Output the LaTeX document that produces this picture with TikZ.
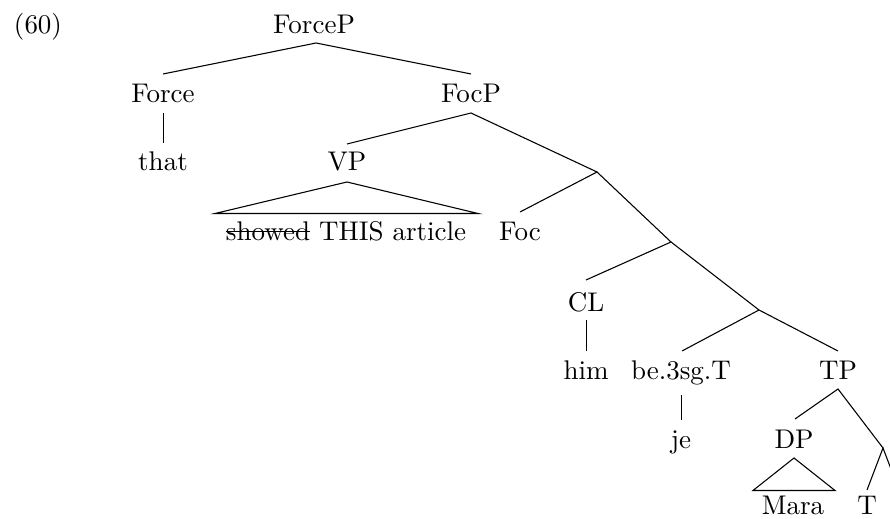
\documentclass[tikz,border=0pt]{standalone}
\newcommand\strk[1]{\setbox0\hbox{#1}\rlap{\rule[0.75ex]{\wd0}{0.4pt}}\box0\relax}
\begin{document}
\begin{tikzpicture}[x=0.3704pt,y=-0.3704pt,
  lab/.style={anchor=base,inner sep=0pt,outer sep=0pt},
  edge/.style={draw=black,line width=0.4pt}]
\useasboundingbox (0,0) rectangle (890,519);
% labels
\node[lab] (n60) at (38,34) {(60)};
\node[lab] (nForceP) at (314,34) {ForceP};
\node[lab] (nForce) at (163,103) {Force};
\node[lab] (nFocP) at (471,103) {FocP};
\node[lab] (nthat) at (163,171) {that};
\node[lab] (nVP) at (347,171) {VP};
\node[lab] (nvp) at (346,241) {\strk{showed} THIS article};
\node[lab] (nFoc) at (520,241) {Foc};
\node[lab] (nCL) at (586,312) {CL};
\node[lab] (nhim) at (586,380) {him};
\node[lab] (nbe) at (681,380) {be.3sg.T};
\node[lab] (nTP) at (838,380) {TP};
\node[lab] (nje) at (681,449) {je};
\node[lab] (nDP) at (794,449) {DP};
\node[lab] (nMara) at (793,515) {Mara};
\node[lab] (nT) at (867,515) {T};
% attachment points
\coordinate (forcepB) at (316,43);
\coordinate (forceT) at (163,74);
\coordinate (focpT) at (471,74);
\coordinate (forceB) at (163.5,113);
\coordinate (thatT) at (163.5,143);
\coordinate (focpB) at (471,113);
\coordinate (vpT) at (347,144);
\coordinate (bar1) at (597,172);
\coordinate (vpA) at (347,182);
\coordinate (vpL) at (215,213.5);
\coordinate (vpR) at (478,213.5);
\coordinate (focT) at (520,212);
\coordinate (bar2) at (671,242);
\coordinate (clT) at (586,280);
\coordinate (bar3) at (759,310);
\coordinate (clB) at (586.5,320);
\coordinate (himT) at (586.5,351);
\coordinate (beT) at (682,351);
\coordinate (tpT) at (838,351);
\coordinate (beB) at (681.5,395);
\coordinate (jeT) at (681.5,420);
\coordinate (tpB) at (838,389);
\coordinate (dpT) at (795,419);
\coordinate (bar4) at (883,448);
\coordinate (dpA) at (794,458);
\coordinate (dpL) at (753,490.5);
\coordinate (dpR) at (835,490.5);
\coordinate (tT) at (867,490);
\coordinate (offR) at (899,490);
% edges
\draw[edge] (forceT) -- (forcepB) -- (focpT);
\draw[edge] (forceB) -- (thatT);
\draw[edge] (vpT) -- (focpB) -- (bar1);
\draw[edge] (vpA) -- (vpL) -- (vpR) -- cycle;
\draw[edge] (focT) -- (bar1) -- (bar2);
\draw[edge] (clT) -- (bar2) -- (bar3);
\draw[edge] (clB) -- (himT);
\draw[edge] (beT) -- (bar3) -- (tpT);
\draw[edge] (beB) -- (jeT);
\draw[edge] (dpT) -- (tpB) -- (bar4);
\draw[edge] (dpA) -- (dpL) -- (dpR) -- cycle;
\draw[edge] (tT) -- (bar4) -- (offR);
\end{tikzpicture}
\end{document}
